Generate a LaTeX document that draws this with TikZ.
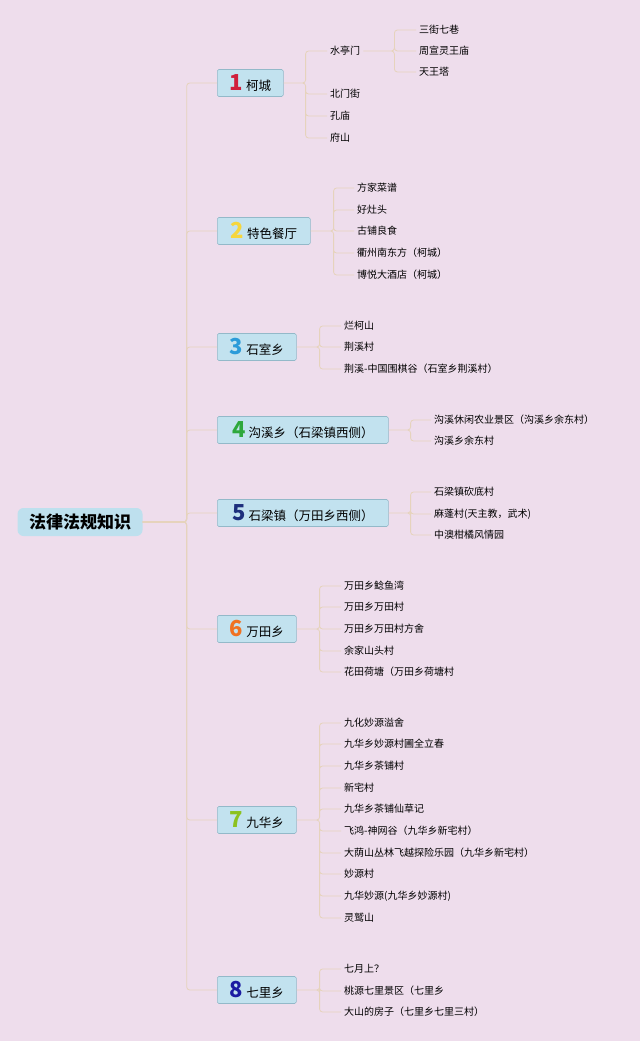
\documentclass[tikz,border=0pt]{standalone}
\usepackage{fontspec}
\setmainfont{Noto Sans CJK SC}
\usetikzlibrary{positioning}

\definecolor{bgpink}{HTML}{EEDDEC}
\definecolor{rootblue}{HTML}{BEE0EE}
\definecolor{topicblue}{HTML}{C2E2EF}
\definecolor{topicline}{HTML}{93B9C9}
\definecolor{linktan}{HTML}{E6D3BC}
\definecolor{nred}{HTML}{D01F3C}
\definecolor{nyellow}{HTML}{F6D63C}
\definecolor{nblue}{HTML}{2B9BD9}
\definecolor{ngreen}{HTML}{2EA83C}
\definecolor{nnavy}{HTML}{1D2F7C}
\definecolor{norange}{HTML}{F07222}
\definecolor{nlime}{HTML}{8CC21F}
\definecolor{ndeep}{HTML}{1B1BA2}

\newcommand{\bnum}[2]{{\color{#1}\fontsize{22}{22}\selectfont\bfseries #2}\hspace{3pt}}

\begin{document}
\begin{tikzpicture}[
    x=1pt, y=-1pt,
    root/.style={fill=rootblue, rounded corners=6pt, minimum width=125pt, minimum height=28pt, font=\fontsize{17}{17}\selectfont\bfseries},
    topic/.style={draw=topicline, fill=topicblue, line width=0.6pt, rounded corners=1.5pt, minimum height=27pt, inner ysep=0pt, anchor=west, font=\fontsize{12.5}{12.5}\selectfont},
    leaf/.style={anchor=west, inner xsep=3pt, inner ysep=1pt, font=\fontsize{10}{10}\selectfont},
    link/.style={draw=linktan, line width=0.8pt, rounded corners=3pt}
]
\useasboundingbox[fill=bgpink] (0,0) rectangle (640,1041);

\node[root] (root) at (80,522) {法律法规知识};

\node[topic, minimum width=66pt] (kecheng) at (217,83) {\bnum{nred}{1}柯城};
\node[topic, minimum width=93pt] (canting) at (217,231) {\bnum{nyellow}{2}特色餐厅};
\node[topic, minimum width=79pt] (shishi) at (217,347) {\bnum{nblue}{3}石室乡};
\node[topic, minimum width=171pt] (gouxi) at (217,430) {\bnum{ngreen}{4}沟溪乡（石梁镇西侧）};
\node[topic, minimum width=171pt] (shiliang) at (217,513) {\bnum{nnavy}{5}石梁镇（万田乡西侧）};
\node[topic, minimum width=79pt] (wantian) at (217,629) {\bnum{norange}{6}万田乡};
\node[topic, minimum width=79pt] (jiuhua) at (217,820) {\bnum{nlime}{7}九华乡};
\node[topic, minimum width=79pt] (qili) at (217,990) {\bnum{ndeep}{8}七里乡};

% 1
\node[leaf] (kc1) at (327,51) {水亭门};
\node[leaf] (kc2) at (327,94) {北门街};
\node[leaf] (kc3) at (327,116) {孔庙};
\node[leaf] (kc4) at (327,138) {府山};
\node[leaf] (st1) at (416,30) {三街七巷};
\node[leaf] (st2) at (416,51) {周宣灵王庙};
\node[leaf] (st3) at (416,72) {天王塔};
% 2
\node[leaf] (ct1) at (354,188) {方家菜谱};
\node[leaf] (ct2) at (354,210) {好灶头};
\node[leaf] (ct3) at (354,231) {古铺良食};
\node[leaf] (ct4) at (354,253) {衢州南东方（柯城）};
\node[leaf] (ct5) at (354,275) {博悦大酒店（柯城）};
% 3
\node[leaf] (ss1) at (341,326) {烂柯山};
\node[leaf] (ss2) at (341,347) {荆溪村};
\node[leaf] (ss3) at (341,369) {荆溪-中国围棋谷（石室乡荆溪村）};
% 4
\node[leaf] (gx1) at (431,420) {沟溪休闲农业景区（沟溪乡余东村）};
\node[leaf] (gx2) at (431,441) {沟溪乡余东村};
% 5
\node[leaf] (sl1) at (431,492) {石梁镇砍底村};
\node[leaf] (sl2) at (431,514) {麻蓬村(天主教，武术)};
\node[leaf] (sl3) at (431,535) {中澳柑橘风情园};
% 6
\node[leaf] (wt1) at (341,586) {万田乡鲶鱼湾};
\node[leaf] (wt2) at (341,607) {万田乡万田村};
\node[leaf] (wt3) at (341,629) {万田乡万田村方舍};
\node[leaf] (wt4) at (341,651) {余家山头村};
\node[leaf] (wt5) at (341,672) {花田荷塘（万田乡荷塘村};
% 7
\node[leaf] (jh1) at (341,723) {九化妙源溢舍};
\node[leaf] (jh2) at (341,744) {九华乡妙源村圃全立春};
\node[leaf] (jh3) at (341,766) {九华乡茶铺村};
\node[leaf] (jh4) at (341,788) {新宅村};
\node[leaf] (jh5) at (341,809) {九华乡茶铺仙草记};
\node[leaf] (jh6) at (341,831) {飞鸿-神网谷（九华乡新宅村）};
\node[leaf] (jh7) at (341,853) {大荫山丛林飞越探险乐园（九华乡新宅村）};
\node[leaf] (jh8) at (341,874) {妙源村};
\node[leaf] (jh9) at (341,896) {九华妙源(九华乡妙源村)};
\node[leaf] (jh10) at (341,918) {灵鹫山};
% 8
\node[leaf] (ql1) at (341,969) {七月上？};
\node[leaf] (ql2) at (341,991) {桃源七里景区（七里乡};
\node[leaf] (ql3) at (341,1012) {大山的房子（七里乡七里三村）};

% trunk
\draw[link] (root.east) -- ++(44,0) |- (kecheng.west);
\draw[link] (root.east) -- ++(44,0) |- (canting.west);
\draw[link] (root.east) -- ++(44,0) |- (shishi.west);
\draw[link] (root.east) -- ++(44,0) |- (gouxi.west);
\draw[link] (root.east) -- ++(44,0) |- (shiliang.west);
\draw[link] (root.east) -- ++(44,0) |- (wantian.west);
\draw[link] (root.east) -- ++(44,0) |- (jiuhua.west);
\draw[link] (root.east) -- ++(44,0) |- (qili.west);

% brackets
\draw[link] (kecheng.east) -- ++(22,0) |- (kc1.west)
  (kecheng.east) -- ++(22,0) |- (kc2.west)
  (kecheng.east) -- ++(22,0) |- (kc3.west)
  (kecheng.east) -- ++(22,0) |- (kc4.west);
\draw[link] (kc1.east) -- ++(31,0) |- (st1.west)
  (kc1.east) -- ++(31,0) |- (st2.west)
  (kc1.east) -- ++(31,0) |- (st3.west);
\draw[link] (canting.east) -- ++(23,0) |- (ct1.west)
  (canting.east) -- ++(23,0) |- (ct2.west)
  (canting.east) -- ++(23,0) |- (ct3.west)
  (canting.east) -- ++(23,0) |- (ct4.west)
  (canting.east) -- ++(23,0) |- (ct5.west);
\draw[link] (shishi.east) -- ++(23,0) |- (ss1.west)
  (shishi.east) -- ++(23,0) |- (ss2.west)
  (shishi.east) -- ++(23,0) |- (ss3.west);
\draw[link] (gouxi.east) -- ++(22,0) |- (gx1.west)
  (gouxi.east) -- ++(22,0) |- (gx2.west);
\draw[link] (shiliang.east) -- ++(22,0) |- (sl1.west)
  (shiliang.east) -- ++(22,0) |- (sl2.west)
  (shiliang.east) -- ++(22,0) |- (sl3.west);
\draw[link] (wantian.east) -- ++(23,0) |- (wt1.west)
  (wantian.east) -- ++(23,0) |- (wt2.west)
  (wantian.east) -- ++(23,0) |- (wt3.west)
  (wantian.east) -- ++(23,0) |- (wt4.west)
  (wantian.east) -- ++(23,0) |- (wt5.west);
\draw[link] (jiuhua.east) -- ++(23,0) |- (jh1.west)
  (jiuhua.east) -- ++(23,0) |- (jh2.west)
  (jiuhua.east) -- ++(23,0) |- (jh3.west)
  (jiuhua.east) -- ++(23,0) |- (jh4.west)
  (jiuhua.east) -- ++(23,0) |- (jh5.west)
  (jiuhua.east) -- ++(23,0) |- (jh6.west)
  (jiuhua.east) -- ++(23,0) |- (jh7.west)
  (jiuhua.east) -- ++(23,0) |- (jh8.west)
  (jiuhua.east) -- ++(23,0) |- (jh9.west)
  (jiuhua.east) -- ++(23,0) |- (jh10.west);
\draw[link] (qili.east) -- ++(23,0) |- (ql1.west)
  (qili.east) -- ++(23,0) |- (ql2.west)
  (qili.east) -- ++(23,0) |- (ql3.west);
\end{tikzpicture}
\end{document}
